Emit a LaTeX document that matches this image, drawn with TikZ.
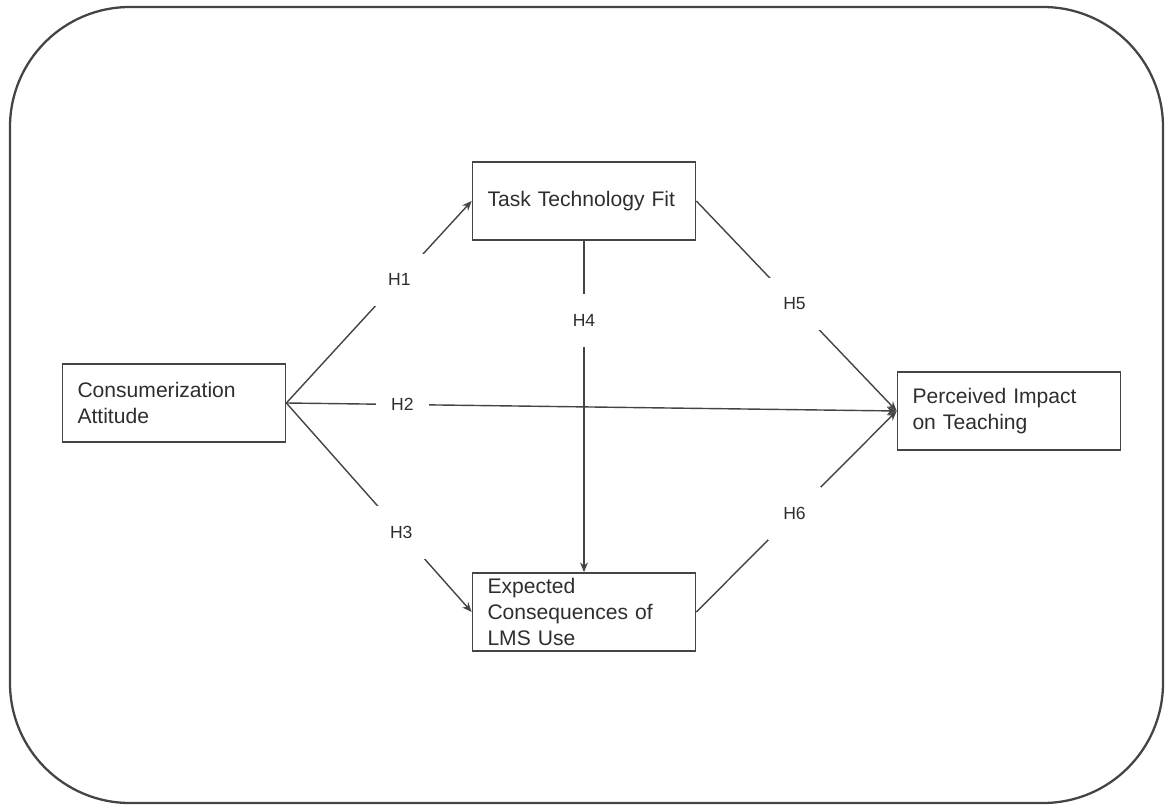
\documentclass[tikz,border=0pt]{standalone}
\usepackage{fontspec}
\setmainfont{Liberation Sans}
\usetikzlibrary{arrows.meta}
\definecolor{linegray}{HTML}{444444}
\definecolor{textgray}{HTML}{2E2E2E}
\tikzset{
    construct/.style={draw=linegray, line width=1pt, text=textgray, text width=3.86cm, inner xsep=0.3cm, inner ysep=1pt, minimum height=1.56cm, align=left, font=\fontsize{12}{14.8}\selectfont},
    hyp/.style={fill=white, text=textgray, minimum size=1.05cm, inner sep=0pt, font=\fontsize{10}{12}\selectfont},
    link/.style={->, draw=linegray, line width=0.8pt}
}
\begin{document}
\begin{tikzpicture}[>={Stealth[length=5.5pt,width=4.5pt]}, x=0.02cm, y=-0.02cm]
\useasboundingbox (0,0) rectangle (1167,807);
\draw[draw=linegray, line width=1.3pt, rounded corners=2.4cm] (10,7) rectangle (1163,803);
\node[construct] (ca) at (174,403) {Consumerization\\Attitude};
\node[construct] (ttf) at (584,201) {Task Technology Fit};
\node[construct] (eclu) at (584,612) {Expected\\Consequences of\\LMS Use};
\node[construct] (pit) at (1009,411) {Perceived Impact\\on Teaching};
\foreach \a/\b/\h/\p in {ca/ttf/H1/.61, ca/pit/H2/.19, ca/eclu/H3/.62, ttf/pit/H5/.49, eclu/pit/H6/.49}
{
    \draw[link](\a.east)--node[hyp, pos=\p]{\h}(\b.west);
}
\draw[link](ttf.south)--node[hyp, pos=.24]{H4}(eclu.north);
\end{tikzpicture}
\end{document}
